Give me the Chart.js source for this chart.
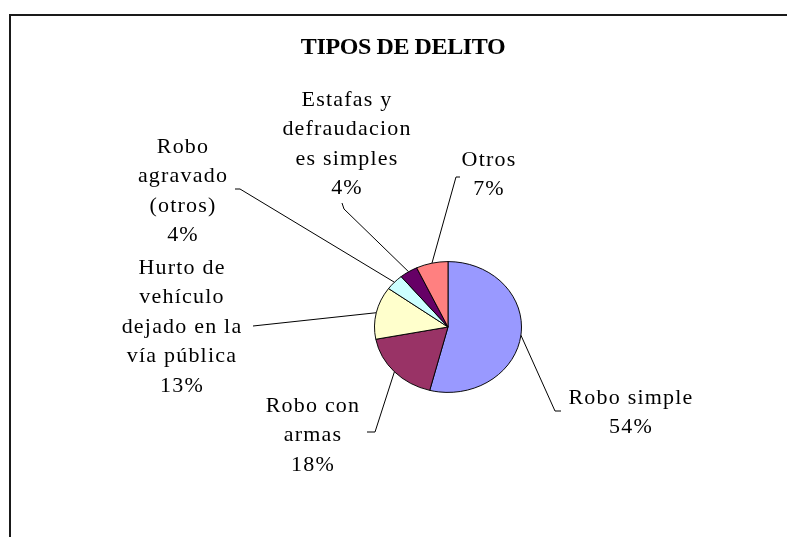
<!DOCTYPE html>
<html>
<head>
<meta charset="utf-8">
<script src="https://cdn.jsdelivr.net/npm/chart.js@4/dist/chart.umd.min.js"></script>
<style>
html,body{margin:0;padding:0;background:#fff;}
#wrap{width:787px;height:537px;position:relative;}
</style>
</head>
<body>
<div id="wrap"><canvas id="c" width="787" height="537"></canvas></div>
<script>
// ---- data ----
const chartTitle = 'TIPOS DE DELITO';
const categories = ['Robo simple', 'Robo con armas', 'Hurto de vehículo dejado en la vía pública', 'Robo agravado (otros)', 'Estafas y defraudaciones simples', 'Otros'];
const labelLines = [['Robo simple'], ['Robo con', 'armas'], ['Hurto de', 'vehículo', 'dejado en la', 'vía pública'], ['Robo', 'agravado', '(otros)'], ['Estafas y', 'defraudacion', 'es simples'], ['Otros']];
const values = [54, 18, 13, 4, 4, 7];
const sliceColors = ['#9999FF', '#993366', '#FFFFCC', '#CCFFFF', '#660066', '#FF8080'];

// ---- layout (label placement, not data) ----
const labelCenters = [[631, 398], [313, 406], [182, 268], [183, 147], [347, 100], [489, 160]];
const leaderElbow = [[555, 411], [375, 432], [253, 326], [240, 189], [344, 209], [456, 177]];
const leaderEnd   = [[561, 411], [367, 432], [253, 326], [235, 189], [342, 203], [460, 177]];
const SCALE_Y = 0.89;
const LINE_H = 29.5;

const total = values.reduce((a, b) => a + b, 0);

const piePlugin = {
  id: 'piePlugin',
  beforeDraw(chart) {
    const ctx = chart.ctx;
    ctx.save();
    ctx.fillStyle = '#fff';
    ctx.fillRect(0, 0, chart.width, chart.height);
    ctx.strokeStyle = '#1a1a1a';
    ctx.lineWidth = 2;
    ctx.beginPath();
    ctx.moveTo(10, 537);
    ctx.lineTo(10, 15);
    ctx.lineTo(787, 15);
    ctx.stroke();
    ctx.fillStyle = '#000';
    ctx.font = 'bold 24px "Liberation Serif", "Times New Roman", serif';
    ctx.textAlign = 'center';
    ctx.textBaseline = 'alphabetic';
    ctx.letterSpacing = '-0.4px';
    ctx.fillText(chartTitle, 403, 54);
    ctx.restore();
  },
  beforeDatasetsDraw(chart) {
    const ctx = chart.ctx;
    const a = chart.getDatasetMeta(0).data[0];
    ctx.save();
    ctx.translate(a.x, a.y);
    ctx.scale(1, SCALE_Y);
    ctx.translate(-a.x, -a.y);
  },
  afterDatasetsDraw(chart) {
    const ctx = chart.ctx;
    ctx.restore();
    const arcs = chart.getDatasetMeta(0).data;
    ctx.save();
    ctx.strokeStyle = '#000';
    ctx.lineWidth = 1;
    arcs.forEach((arc, i) => {
      const mid = (arc.startAngle + arc.endAngle) / 2;
      const px = arc.x + arc.outerRadius * Math.cos(mid);
      const py = arc.y + arc.outerRadius * Math.sin(mid) * SCALE_Y;
      ctx.beginPath();
      ctx.moveTo(px, py);
      ctx.lineTo(leaderElbow[i][0], leaderElbow[i][1]);
      ctx.lineTo(leaderEnd[i][0], leaderEnd[i][1]);
      ctx.stroke();
    });
    ctx.fillStyle = '#000';
    ctx.font = '22px "Liberation Serif", "Times New Roman", serif';
    ctx.textAlign = 'center';
    ctx.textBaseline = 'middle';
    ctx.letterSpacing = '1.2px';
    labelLines.forEach((lines, i) => {
      const all = lines.concat([Math.round(values[i] / total * 100) + '%']);
      all.forEach((t, k) => {
        ctx.fillText(t, labelCenters[i][0], labelCenters[i][1] + k * LINE_H);
      });
    });
    ctx.restore();
  }
};

new Chart(document.getElementById('c'), {
  type: 'pie',
  data: {
    labels: categories,
    datasets: [{
      data: values,
      backgroundColor: sliceColors,
      borderColor: '#000',
      borderWidth: 1
    }]
  },
  options: {
    responsive: false,
    animation: false,
    events: [],
    layout: { padding: { left: 374, right: 265, top: 253, bottom: 136 } },
    plugins: {
      legend: { display: false },
      title: { display: false },
      tooltip: { enabled: false }
    }
  },
  plugins: [piePlugin]
});
</script>
</body>
</html>
